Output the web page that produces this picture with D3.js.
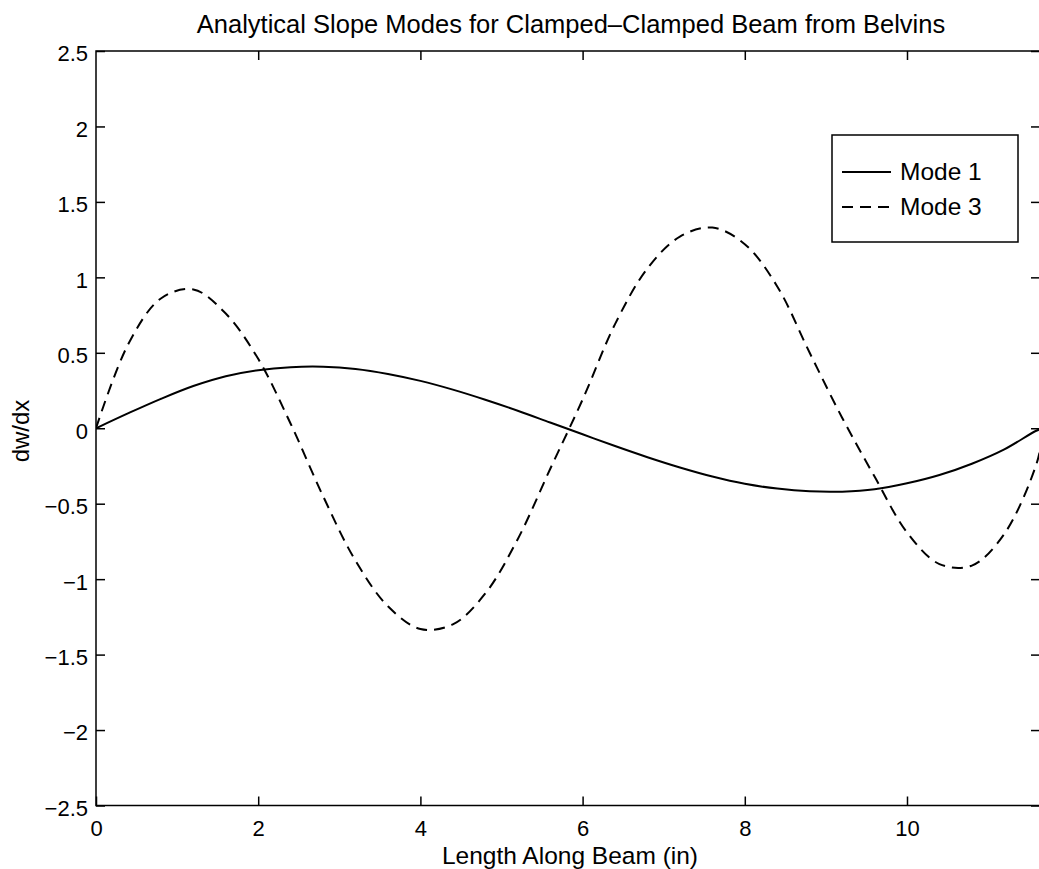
<!DOCTYPE html>
<html><head><meta charset="utf-8">
<script src="https://cdn.jsdelivr.net/npm/d3@7"></script>
<style>body{margin:0;background:#fff}svg{display:block}text{font-family:"Liberation Sans",Arial,Helvetica,sans-serif;fill:#000}</style>
</head><body>
<script>
const xValues = [0,0.4,0.8,1.2,1.6,2.0,2.4,2.8,3.2,3.6,4.0,4.4,4.8,5.2,5.6,6.0,6.4,6.8,7.2,7.6,8.0,8.4,8.8,9.2,9.6,10.0,10.4,10.8,11.2,11.6,11.68];
const mode1 = [0,0.100,0.195,0.280,0.345,0.385,0.405,0.408,0.393,0.360,0.314,0.256,0.189,0.116,0.038,
  -0.040,-0.118,-0.192,-0.260,-0.320,-0.368,-0.400,-0.418,-0.420,-0.405,-0.365,-0.310,-0.235,-0.140,-0.015,0];
const mode3 = [0,0.560,0.860,0.920,0.760,0.460,0.030,-0.450,-0.878,-1.180,-1.330,-1.300,-1.095,-0.735,-0.270,
  0.190,0.690,1.060,1.270,1.330,1.220,0.940,0.500,0.070,-0.320,-0.690,-0.900,-0.910,-0.700,-0.230,-0.020];
const xTicks = [0,2,4,6,8,10];
const yTicks = [-2.5,-2,-1.5,-1,-0.5,0,0.5,1,1.5,2,2.5];
const seriesNames = ["Mode 1","Mode 3"];
const titleText = "Analytical Slope Modes for Clamped\u2013Clamped Beam from Belvins";
const xLabel = "Length Along Beam (in)";
const yLabel = "dw/dx";

const W = 1039, H = 869;
const L = 96, R = 1040, T = 51, B = 805.5;
const svg = d3.select("body").append("svg").attr("width", W).attr("height", H);
const x = d3.scaleLinear().domain([0, 11.64]).range([L, R]);
const y = d3.scaleLinear().domain([-2.5, 2.5]).range([B, T]);
const fmt = v => (v < 0 ? "\u2212" : "") + String(Math.abs(v));

svg.append("defs").append("clipPath").attr("id", "plotclip")
  .append("rect").attr("x", L).attr("y", T).attr("width", R - L).attr("height", B - T);

// frame
svg.append("rect").attr("x", L).attr("y", T).attr("width", R - L).attr("height", B - T)
  .attr("fill", "none").attr("stroke", "#000").attr("stroke-width", 1.5);

const tl = 9;
const xb = svg.append("g").attr("transform", `translate(0,${B})`)
  .call(d3.axisBottom(x).tickValues(xTicks).tickSizeInner(-tl).tickSizeOuter(0).tickPadding(15).tickFormat(fmt));
const xt = svg.append("g").attr("transform", `translate(0,${T})`)
  .call(d3.axisTop(x).tickValues(xTicks.slice(1)).tickSizeInner(-tl).tickSizeOuter(0).tickFormat(""));
const yl = svg.append("g").attr("transform", `translate(${L},0)`)
  .call(d3.axisLeft(y).tickValues(yTicks).tickSizeInner(-tl).tickSizeOuter(0).tickPadding(8).tickFormat(fmt));
const yr = svg.append("g").attr("transform", `translate(${R},0)`)
  .call(d3.axisRight(y).tickValues(yTicks).tickSizeInner(-tl).tickSizeOuter(0).tickFormat(""));
[xb, xt, yl, yr].forEach(g => {
  g.select(".domain").remove();
  g.selectAll(".tick line").attr("stroke", "#000").attr("stroke-width", 1.5);
  g.selectAll("text").attr("font-size", 22).attr("font-family", '"Liberation Sans",Arial,sans-serif').attr("fill", "#000");
});
xb.selectAll("text").attr("dy", "0.71em");
yl.selectAll("text").attr("dy", "0.45em");

// lines
const pts = vals => xValues.map((xv, i) => [xv, vals[i]]);
const line = d3.line().x(d => x(d[0])).y(d => y(d[1])).curve(d3.curveCatmullRom);
const plot = svg.append("g").attr("clip-path", "url(#plotclip)");
plot.append("path").datum(pts(mode1)).attr("d", line).attr("fill", "none")
  .attr("stroke", "#000").attr("stroke-width", 2);
plot.append("path").datum(pts(mode3)).attr("d", line).attr("fill", "none")
  .attr("stroke", "#000").attr("stroke-width", 2).attr("stroke-dasharray", "11,7");

// title & labels
svg.append("text").attr("x", 571).attr("y", 33).attr("text-anchor", "middle")
  .attr("font-size", 25.5).text(titleText);
svg.append("text").attr("x", 570).attr("y", 864).attr("text-anchor", "middle")
  .attr("font-size", 24.5).text(xLabel);
svg.append("text").attr("transform", "translate(29,431) rotate(-90)").attr("text-anchor", "middle")
  .attr("font-size", 24).text(yLabel);

// legend
const lg = svg.append("g");
lg.append("rect").attr("x", 832).attr("y", 135).attr("width", 186).attr("height", 107)
  .attr("fill", "#fff").attr("stroke", "#000").attr("stroke-width", 1.5);
const ly = [172, 207];
seriesNames.forEach((n, i) => {
  lg.append("line").attr("x1", 842).attr("x2", 891).attr("y1", ly[i]).attr("y2", ly[i])
    .attr("stroke", "#000").attr("stroke-width", 2).attr("stroke-dasharray", i ? "11,7" : null);
  lg.append("text").attr("x", 900).attr("y", ly[i] + 8).attr("font-size", 24.5).text(n);
});
</script>
</body></html>
